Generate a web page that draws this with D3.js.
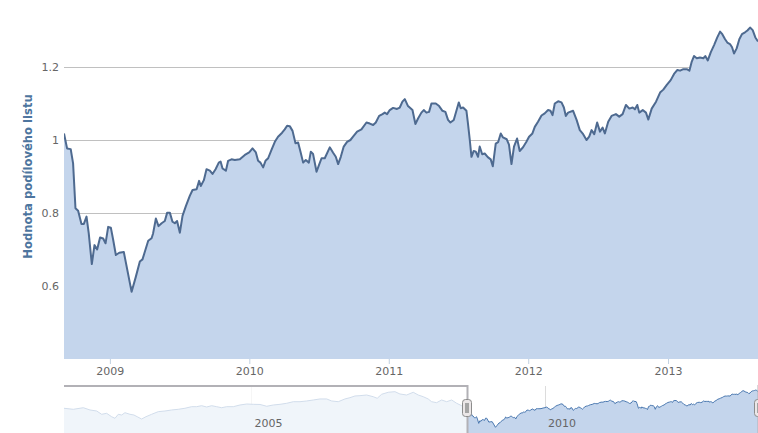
<!DOCTYPE html>
<html><head><meta charset="utf-8">
<script src="https://cdn.jsdelivr.net/npm/d3@7"></script>
<style>html,body{margin:0;padding:0;background:#fff;overflow:hidden}</style>
</head><body><svg id="chart" width="758" height="433"></svg>
<script>
// ---- data (decimal year, fund value) ----
const years = [2008.672,2008.694,2008.720,2008.737,2008.754,2008.773,2008.797,2008.814,2008.833,2008.849,2008.871,2008.890,2008.909,2008.930,2008.952,2008.969,2008.988,2009.007,2009.024,2009.043,2009.067,2009.100,2009.156,2009.186,2009.215,2009.234,2009.275,2009.299,2009.310,2009.330,2009.349,2009.371,2009.394,2009.411,2009.430,2009.449,2009.466,2009.482,2009.502,2009.521,2009.545,2009.573,2009.593,2009.622,2009.640,2009.652,2009.674,2009.693,2009.717,2009.736,2009.758,2009.781,2009.794,2009.808,2009.832,2009.848,2009.872,2009.896,2009.932,2009.968,2009.999,2010.023,2010.047,2010.063,2010.080,2010.099,2010.116,2010.135,2010.159,2010.183,2010.206,2010.235,2010.254,2010.271,2010.290,2010.310,2010.331,2010.350,2010.367,2010.386,2010.405,2010.427,2010.441,2010.457,2010.482,2010.500,2010.518,2010.541,2010.577,2010.601,2010.620,2010.637,2010.656,2010.677,2010.701,2010.725,2010.744,2010.773,2010.804,2010.840,2010.864,2010.888,2010.907,2010.931,2010.955,2010.971,2010.988,2011.007,2011.031,2011.059,2011.079,2011.098,2011.115,2011.138,2011.170,2011.191,2011.210,2011.234,2011.251,2011.270,2011.289,2011.306,2011.337,2011.361,2011.385,2011.406,2011.425,2011.442,2011.466,2011.485,2011.502,2011.516,2011.533,2011.557,2011.568,2011.581,2011.593,2011.609,2011.624,2011.640,2011.652,2011.670,2011.688,2011.710,2011.731,2011.746,2011.767,2011.784,2011.803,2011.819,2011.846,2011.862,2011.880,2011.898,2011.920,2011.939,2011.963,2011.987,2012.006,2012.030,2012.047,2012.070,2012.095,2012.118,2012.142,2012.159,2012.174,2012.190,2012.214,2012.238,2012.255,2012.269,2012.285,2012.321,2012.346,2012.369,2012.393,2012.417,2012.436,2012.453,2012.472,2012.493,2012.513,2012.532,2012.548,2012.572,2012.596,2012.627,2012.651,2012.675,2012.699,2012.723,2012.747,2012.763,2012.780,2012.794,2012.819,2012.842,2012.859,2012.883,2012.914,2012.943,2012.966,2012.991,2013.019,2013.043,2013.067,2013.086,2013.110,2013.134,2013.153,2013.170,2013.186,2013.206,2013.229,2013.253,2013.267,2013.285,2013.306,2013.330,2013.353,2013.373,2013.389,2013.409,2013.425,2013.444,2013.459,2013.473,2013.492,2013.511,2013.530,2013.552,2013.569,2013.588,2013.607,2013.626,2013.645];
const values = [1.018,0.977,0.975,0.936,0.813,0.806,0.770,0.770,0.790,0.744,0.660,0.712,0.700,0.733,0.730,0.717,0.762,0.760,0.726,0.685,0.691,0.693,0.584,0.625,0.667,0.673,0.724,0.731,0.744,0.785,0.764,0.772,0.778,0.801,0.801,0.776,0.772,0.778,0.746,0.792,0.819,0.847,0.863,0.865,0.888,0.874,0.890,0.920,0.916,0.907,0.920,0.938,0.941,0.922,0.916,0.943,0.947,0.945,0.947,0.959,0.966,0.977,0.966,0.943,0.938,0.925,0.943,0.950,0.973,0.995,1.009,1.020,1.029,1.039,1.038,1.025,0.991,0.993,0.968,0.938,0.945,0.938,0.968,0.962,0.913,0.932,0.950,0.950,0.980,0.965,0.954,0.934,0.954,0.982,0.995,1.000,1.009,1.023,1.029,1.048,1.045,1.041,1.048,1.066,1.071,1.075,1.071,1.082,1.088,1.085,1.089,1.105,1.112,1.093,1.082,1.044,1.059,1.075,1.082,1.075,1.077,1.100,1.100,1.093,1.080,1.077,1.055,1.048,1.055,1.080,1.103,1.087,1.089,1.080,1.045,1.000,0.954,0.970,0.968,0.954,0.982,0.961,0.963,0.953,0.947,0.928,0.990,0.994,1.018,1.007,1.002,0.987,0.934,0.982,1.004,0.970,0.980,0.995,1.009,1.018,1.036,1.050,1.067,1.073,1.082,1.080,1.068,1.100,1.106,1.103,1.089,1.066,1.075,1.080,1.055,1.027,1.016,1.000,1.009,1.027,1.016,1.048,1.023,1.034,1.018,1.050,1.066,1.071,1.064,1.071,1.096,1.086,1.089,1.084,1.096,1.075,1.082,1.075,1.056,1.086,1.105,1.130,1.138,1.151,1.164,1.181,1.192,1.190,1.194,1.194,1.190,1.215,1.230,1.224,1.226,1.224,1.230,1.218,1.240,1.260,1.281,1.297,1.290,1.276,1.267,1.263,1.254,1.237,1.251,1.276,1.290,1.295,1.300,1.308,1.301,1.281,1.270];
// earlier history, shown only in the navigator
const histYears = [2001.807,2001.965,2002.136,2002.250,2002.364,2002.449,2002.534,2002.619,2002.676,2002.732,2002.790,2002.846,2002.931,2002.999,2003.055,2003.130,2003.204,2003.301,2003.413,2003.527,2003.641,2003.754,2003.868,2003.982,2004.067,2004.152,2004.238,2004.323,2004.408,2004.493,2004.578,2004.691,2004.805,2004.919,2005.031,2005.145,2005.260,2005.372,2005.486,2005.600,2005.713,2005.827,2005.941,2006.053,2006.167,2006.282,2006.367,2006.479,2006.593,2006.678,2006.764,2006.849,2006.963,2007.075,2007.143,2007.218,2007.331,2007.445,2007.530,2007.644,2007.757,2007.842,2007.927,2008.012,2008.070,2008.155,2008.240,2008.326,2008.411,2008.496,2008.581];
const histValues = [0.954,0.934,0.965,0.921,0.901,0.837,0.856,0.790,0.759,0.837,0.823,0.868,0.837,0.823,0.790,0.745,0.790,0.837,0.888,0.901,0.921,0.934,0.954,0.985,0.985,1.004,0.979,1.004,0.985,0.965,0.985,0.985,1.018,1.037,1.031,1.028,0.993,1.018,1.031,1.051,1.082,1.082,1.096,1.115,1.135,1.135,1.096,1.082,1.135,1.160,1.193,1.199,1.212,1.179,1.148,1.226,1.265,1.277,1.232,1.212,1.265,1.212,1.179,1.135,1.082,1.063,1.115,1.082,1.115,1.051,1.004];
const yTickValues = [0.6, 0.8, 1, 1.2, 1.4];
const xTickYears = [2009, 2010, 2011, 2012, 2013];
const navTickYears = [2005, 2010];
const yAxisTitle = "Hodnota podílového listu";

function toDate(y){const yr=Math.floor(y);const a=Date.UTC(yr,0,1),b=Date.UTC(yr+1,0,1);return new Date(a+(y-yr)*(b-a));}

const main = years.map((y,i)=>({d:toDate(y), v:values[i]}));
const nav = histYears.map((y,i)=>({d:toDate(y), v:histValues[i]})).concat(main);

const svg = d3.select("#chart");
const FONT = '"DejaVu Sans", Verdana, sans-serif';
const L = 64, R = 758, T = -6, B = 359;

const x = d3.scaleUtc().domain(d3.extent(main, d=>d.d)).range([L, R]);
const y = d3.scaleLinear().domain([0.4, 1.4]).range([B, T]);

// grid
svg.append("g").selectAll("line").data(yTickValues).join("line")
  .attr("x1", L).attr("x2", 760)
  .attr("y1", d=>Math.round(y(d))+0.5).attr("y2", d=>Math.round(y(d))+0.5)
  .attr("stroke", "#c0c0c0").attr("stroke-width", 1);

svg.append("defs").append("clipPath").attr("id","plotclip")
  .append("rect").attr("x", L).attr("y", T).attr("width", 760-L).attr("height", B-T);

const plot = svg.append("g").attr("clip-path","url(#plotclip)");
plot.append("path").datum(main)
  .attr("d", d3.area().x(d=>x(d.d)).y0(B).y1(d=>y(d.v)))
  .attr("fill", "#c4d5ec");
plot.append("path").datum(main)
  .attr("d", d3.line().x(d=>x(d.d)).y(d=>y(d.v)))
  .attr("fill", "none").attr("stroke", "#4e6a90").attr("stroke-width", 2)
  .attr("stroke-linejoin","round");

// y axis
const yAx = svg.append("g").attr("transform", `translate(${L},0)`)
  .call(d3.axisLeft(y).tickValues([0.6,0.8,1,1.2]).tickFormat(d3.format("~g")).tickSize(0).tickPadding(5));
yAx.select(".domain").remove();
yAx.selectAll("text").attr("fill","#666").style("font-family",FONT).style("font-size","11px");

svg.append("text")
  .attr("transform", `translate(28,${(B+T)/2}) rotate(-90)`)
  .attr("text-anchor","middle").attr("dy","0.35em")
  .attr("fill","#4d759e").style("font-family",FONT).style("font-size","11.6px").style("font-weight","bold")
  .text(yAxisTitle);

// x axis
const xAx = svg.append("g").attr("transform", `translate(0,${B})`)
  .call(d3.axisBottom(x).tickValues(xTickYears.map(toDate)).tickFormat(d3.utcFormat("%Y")).tickSize(5).tickPadding(3.5));
xAx.select(".domain").remove();
xAx.selectAll("line").attr("stroke","#c0d0e0");
xAx.selectAll("text").attr("fill","#666").style("font-family",FONT).style("font-size","11px");

// ---- navigator ----
const NT = 386, NB = 436, NL = 64, NR = 759;
const xN = d3.scaleUtc().domain(d3.extent(nav, d=>d.d)).range([NL, NR]);
const yN = d3.scaleLinear().domain([0.415, 1.387]).range([NB, NT]);
const navG = svg.append("g");
navG.selectAll("line.g").data(navTickYears).join("line")
  .attr("x1", d=>Math.round(xN(toDate(d)))+0.5).attr("x2", d=>Math.round(xN(toDate(d)))+0.5)
  .attr("y1", NT).attr("y2", NB).attr("stroke","#dcdcdc");
navG.append("path").datum(nav)
  .attr("d", d3.area().x(d=>xN(d.d)).y0(NB).y1(d=>yN(d.v)))
  .attr("fill","#c4d5ec");
navG.append("path").datum(nav)
  .attr("d", d3.line().x(d=>xN(d.d)).y(d=>yN(d.v)))
  .attr("fill","none").attr("stroke","#4a78b0").attr("stroke-width",1);
const hx = Math.round(xN(main[0].d));
const hx2 = NR;
navG.append("rect").attr("x", NL).attr("y", NT).attr("width", hx-NL).attr("height", NB-NT+10)
  .attr("fill","rgba(255,255,255,0.75)");
navG.selectAll("text").data(navTickYears).join("text")
  .attr("x", d=>xN(toDate(d))+3).attr("y", 427)
  .attr("fill","#666").style("font-family",FONT).style("font-size","11px")
  .text(d=>d);
navG.append("path")
  .attr("d", `M${NL},${NT} H${hx+0.5} V${NB+10} M${hx2-0.5},${NB+10} V${NT} H${NR+2}`)
  .attr("fill","none").attr("stroke","#b2b1b6").attr("stroke-width",2);
[hx, hx2].forEach(h=>{
  navG.append("rect").attr("x", h-4.5).attr("y", 399.5).attr("width", 9).attr("height", 17).attr("rx", 3)
    .attr("fill","#ebe7e8").attr("stroke","#8c8c8c").attr("stroke-width",1);
  navG.append("rect").attr("x", h-2).attr("y", 403).attr("width", 4).attr("height", 10)
    .attr("fill","#a5a5a5");
});
</script></body></html>
